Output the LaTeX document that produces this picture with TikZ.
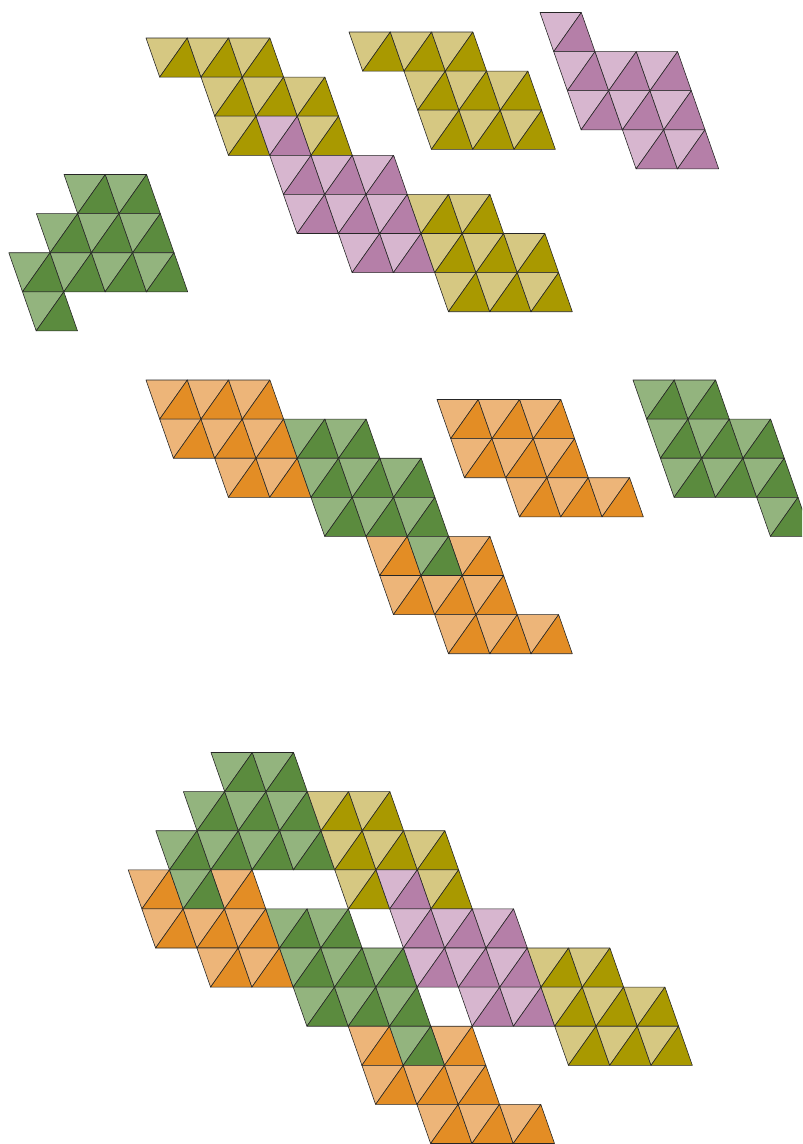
\documentclass[tikz,border=0pt]{standalone}
\usepackage{tikz}
\definecolor{YL}{HTML}{D6C882}
\definecolor{YD}{HTML}{A99900}
\definecolor{PL}{HTML}{D7B6CF}
\definecolor{PD}{HTML}{B57FA8}
\definecolor{GL}{HTML}{93B47E}
\definecolor{GD}{HTML}{5B8B3E}
\definecolor{OL}{HTML}{EDB579}
\definecolor{OD}{HTML}{E38D25}
\newcommand{\tcell}[3]{%
  \filldraw[tile,fill=#3L] (#1,#2) -- ++(1,0) -- ++(-1,1) -- cycle;
  \filldraw[tile,fill=#3D] (#1+1,#2) -- ++(0,1) -- ++(-1,0) -- cycle;}
\newcommand{\trow}[3]{\foreach \i in {#2}{\tcell{\i}{#1}{#3}}}

\begin{document}
\begin{tikzpicture}[x=0.03cm,y=-0.03cm,
   tile/.style={draw=black!85,line width=0.5pt,line join=round},
   piece/.style={x={(1.239cm,0)},y={(0.411cm,-1.173cm)}}]
  \useasboundingbox (0,0) rectangle (802,1144);
  \clip (0,0) rectangle (802,1144);
  % top row of pieces
  \begin{scope}[shift={(146,38)},piece]
    \trow{0}{0,1,2}{Y}
    \trow{1}{1,2,3}{Y}
    \trow{2}{1,3}{Y} \trow{2}{2}{P}
    \trow{3}{2,3,4}{P}
    \trow{4}{2,3,4}{P} \trow{4}{5,6}{Y}
    \trow{5}{3,4}{P} \trow{5}{5,6,7}{Y}
    \trow{6}{5,6,7}{Y}
  \end{scope}
  \begin{scope}[shift={(349,32)},piece]
    \trow{0}{0,1,2}{Y}
    \trow{1}{1,2,3}{Y}
    \trow{2}{1,2,3}{Y}
  \end{scope}
  \begin{scope}[shift={(540,12.5)},piece]
    \trow{0}{0}{P}
    \trow{1}{0,1,2}{P}
    \trow{2}{0,1,2}{P}
    \trow{3}{1,2}{P}
  \end{scope}
  \begin{scope}[shift={(64,174.5)},piece]
    \trow{0}{0,1}{G}
    \trow{1}{-1,0,1}{G}
    \trow{2}{-2,-1,0,1}{G}
    \trow{3}{-2}{G}
  \end{scope}
  % middle row of pieces
  \begin{scope}[shift={(146,380)},piece]
    \trow{0}{0,1,2}{O}
    \trow{1}{0,1,2}{O} \trow{1}{3,4}{G}
    \trow{2}{1,2}{O} \trow{2}{3,4,5}{G}
    \trow{3}{3,4,5}{G}
    \trow{4}{4,6}{O} \trow{4}{5}{G}
    \trow{5}{4,5,6}{O}
    \trow{6}{5,6,7}{O}
  \end{scope}
  \begin{scope}[shift={(437,399.5)},piece]
    \trow{0}{0,1,2}{O}
    \trow{1}{0,1,2}{O}
    \trow{2}{1,2,3}{O}
  \end{scope}
  \begin{scope}[shift={(633,380)},piece]
    \trow{0}{0,1}{G}
    \trow{1}{0,1,2}{G}
    \trow{2}{0,1,2}{G}
    \trow{3}{2}{G}
  \end{scope}
  % assembled figure
  \begin{scope}[shift={(211,752.5)},piece]
    \trow{0}{0,1}{G}
    \trow{1}{-1,0,1}{G} \trow{1}{2,3}{Y}
    \trow{2}{-2,-1,0,1}{G} \trow{2}{2,3,4}{Y}
    \trow{3}{-3,-1}{O} \trow{3}{-2}{G} \trow{3}{2,4}{Y} \trow{3}{3}{P}
    \trow{4}{-3,-2,-1}{O} \trow{4}{0,1}{G} \trow{4}{3,4,5}{P}
    \trow{5}{-2,-1}{O} \trow{5}{0,1,2}{G} \trow{5}{3,4,5}{P} \trow{5}{6,7}{Y}
    \trow{6}{0,1,2}{G} \trow{6}{4,5}{P} \trow{6}{6,7,8}{Y}
    \trow{7}{1,3}{O} \trow{7}{2}{G} \trow{7}{6,7,8}{Y}
    \trow{8}{1,2,3}{O}
    \trow{9}{2,3,4}{O}
  \end{scope}
\end{tikzpicture}
\end{document}
